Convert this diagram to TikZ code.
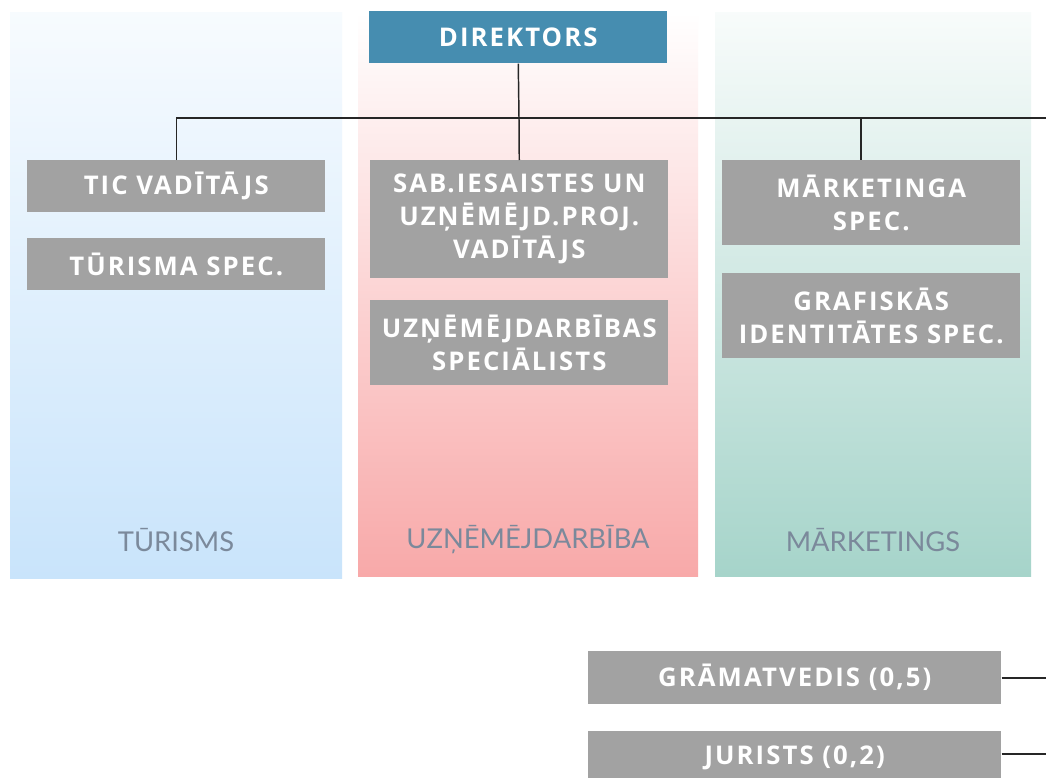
\documentclass[tikz,border=0pt]{standalone}
\usepackage{fontspec}
\newfontfamily\boxfont[LetterSpace=8]{Open Sans}
\newfontfamily\labfont{Lato}
\usetikzlibrary{calc}
\definecolor{dirblue}{HTML}{468DB0}
\definecolor{boxgray}{HTML}{A2A2A2}
\definecolor{panblue}{HTML}{C9E4FB}
\definecolor{panpink}{HTML}{F8A9A9}
\definecolor{panteal}{HTML}{A6D4CA}
\definecolor{labcol}{HTML}{7B899B}
\tikzset{
  graybox/.style={fill=boxgray, draw=none, anchor=north west, text=white,
    font=\boxfont\bfseries\fontsize{19.3}{24.8}\selectfont, align=center,
    inner sep=0pt, minimum width=223.5pt},
  dirbox/.style={graybox, fill=dirblue},
  panlabel/.style={font=\labfont\fontsize{20.5}{22}\selectfont, text=labcol},
  conn/.style={draw=black!85, line width=1.1pt}
}
\begin{document}
\begin{tikzpicture}[x=0.75pt,y=-0.75pt]
\useasboundingbox (0,0) rectangle (1046,778);
\fill[white] (0,0) rectangle (1046,778);
% panels
\shade[top color=panblue!15, bottom color=panblue] (10,12) rectangle (342,578);
\shade[top color=white, bottom color=panpink] (358,12) rectangle (698,576);
\shade[top color=panteal!8, bottom color=panteal] (715,12) rectangle (1031,576);
\node[panlabel] (l1) at (176,540) {TŪRISMS};
\node[panlabel] (l2) at (528,540) {UZŅĒMĒJDARBĪBA};
\node[panlabel] (l3) at (873,540) {MĀRKETINGS};
% boxes
\node[dirbox, minimum height=39pt] (dir) at (369,11) {DIREKTORS};
\node[graybox, minimum height=39pt] (tic) at (27,160) {TIC VADĪTĀJS};
\node[graybox, minimum height=39pt] (tur) at (27,238) {TŪRISMA SPEC.};
\node[graybox, minimum height=88.5pt] (sab) at (370,160) {SAB.IESAISTES UN\\UZŅĒMĒJD.PROJ.\\VADĪTĀJS};
\node[graybox, minimum height=63.75pt] (uzn) at (370,300) {UZŅĒMĒJDARBĪBAS\\SPECIĀLISTS};
\node[graybox, minimum height=63.75pt] (mar) at (722,160) {MĀRKETINGA\\SPEC.};
\node[graybox, minimum height=63.75pt] (gra) at (722,273) {GRAFISKĀS\\IDENTITĀTES SPEC.};
\node[graybox, minimum width=309.75pt, minimum height=39.75pt] (gram) at (588,651) {GRĀMATVEDIS (0,5)};
\node[graybox, minimum width=309.75pt, minimum height=39.75pt] (jur) at (588,731) {JURISTS (0,2)};
% connectors
\coordinate (hr) at (1046,118);
\coordinate (hm) at (519,118);
\coordinate (mk) at (861,118);
\coordinate (g1) at (1046,678);
\coordinate (j1) at (1046,754);
\draw[conn] (dir.south) -- (hm);
\draw[conn] (tic.north) |- (hr);
\draw[conn] (hm) -- (sab.north);
\draw[conn] (mk) -- (mk |- mar.north);
\draw[conn] (gram.east |- g1) -- (g1);
\draw[conn] (jur.east |- j1) -- (j1);
\end{tikzpicture}
\end{document}
